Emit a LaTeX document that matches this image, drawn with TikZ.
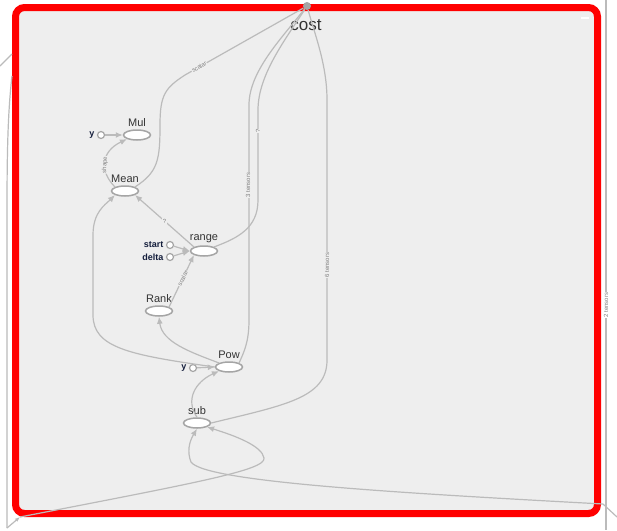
\documentclass[tikz,border=0pt]{standalone}
\usepackage{fontspec}
\setmainfont{Liberation Sans}
\usetikzlibrary{shapes.geometric, arrows.meta}

\definecolor{edgegray}{RGB}{187,187,187}
\definecolor{nodegray}{RGB}{165,165,165}
\definecolor{textgray}{RGB}{51,51,51}
\definecolor{boxfill}{RGB}{238,238,238}
\definecolor{constink}{RGB}{20,30,60}

\begin{document}
\begin{tikzpicture}[x=1pt, y=-1pt]

\tikzset{opnode/.style = {shape=ellipse, draw=nodegray, line width=1.5pt, fill=white, minimum width=27pt, minimum height=10pt, inner sep=0pt}}
\tikzset{constnode/.style = {shape=circle, draw=nodegray, line width=1.2pt, fill=white, minimum size=7pt, inner sep=0pt}}
\tikzset{oplabel/.style = {label={[text=textgray, font=\fontsize{11}{12}\selectfont, label distance=-1pt]above:#1}}}
\tikzset{constlabel/.style = {label={[text=constink, font=\fontsize{9}{10}\selectfont\bfseries, label distance=-1pt]left:#1}}}
\tikzset{edge/.style = {draw=edgegray, line width=1.2pt, -{Latex[length=7pt, width=6pt]}}}
\tikzset{wire/.style = {draw=edgegray, line width=1.2pt}}
\tikzset{edgelabel/.style = {text=gray, font=\fontsize{6}{6}\selectfont, inner sep=0.5pt, fill=boxfill}}

\useasboundingbox (0,0) rectangle (617,530);
\fill[white] (0,0) rectangle (617,530);

%outer box
\draw[red, line width=7pt, rounded corners=9pt, fill=boxfill] (15.5,7.5) rectangle (597.5,513.5);
\draw[white, line width=1.2pt] (581,18) -- (589,18);

%outer edges
\draw[wire] (606,0) -- (606,530);
\node[edgelabel, rotate=90, fill=white] at (606,305) {2 tensors};
\coordinate (inright) at (603,504);
\draw[wire] (617,517) -- (inright);
\coordinate (inleft) at (20,517);
\draw[wire] (12,76) .. controls (8,110) and (7,150) .. (7,210) -- (7,528);
\draw[wire, -{Latex[length=5pt, width=4pt]}] (7,528) -- (inleft);
\draw[wire] (0,66) -- (12,54);

%cost
\node[circle, fill=nodegray, inner sep=0pt, minimum size=8pt] (cost) at (307,6) {};
\node[text=textgray, font=\fontsize{17}{18}\selectfont] (costtext) at (306,25) {cost};

%verticies
\node[opnode, oplabel=Mul] (Mul) at (137,135) {};
\node[opnode, oplabel=Mean] (Mean) at (125,191) {};
\node[opnode, oplabel=range] (range) at (204,251) {};
\node[opnode, oplabel=Rank] (Rank) at (159,311) {};
\node[opnode, oplabel=Pow] (Pow) at (229,367) {};
\node[opnode, oplabel=sub] (sub) at (197,423) {};
\node[constnode, constlabel=y] (y1) at (101,135) {};
\node[constnode, constlabel=start] (start) at (170,245) {};
\node[constnode, constlabel=delta] (delta) at (170,257) {};
\node[constnode, constlabel=y] (y2) at (193,368) {};

%edges
\draw[edge] (y1) -- (Mul);
\draw[edge] (Mean.north west) .. controls (100,172) and (100,152) .. (Mul.south west)
  node[pos=0.45, edgelabel, sloped] {shape};
\draw[wire] (Mean.north east) .. controls (158,172) and (160,160) .. (160,125)
  .. controls (160,95) and (165,88) .. (185,75) -- (cost)
  node[pos=0.12, edgelabel, sloped] {scalar};
\draw[edge] (range.north west) -- (Mean.south east) node[midway, edgelabel] {?};
\draw[edge] (start) -- (range.west);
\draw[edge] (delta) -- (range.west);
\draw[edge] (Rank.north east) -- (range.south west) node[pos=0.55, edgelabel, sloped] {scalar};
\draw[wire] (range.north east) .. controls (238,238) and (258,228) .. (258,200) -- (258,110)
  .. controls (258,75) and (285,40) .. (cost);
\node[edgelabel, rotate=90] at (258,131) {?};
\draw[wire] (Pow.north east) .. controls (244,352) and (249,342) .. (249,320) -- (249,105)
  .. controls (249,72) and (280,40) .. (cost);
\node[edgelabel, rotate=90] at (248,185) {3 tensors};
\draw[wire] (sub.east) .. controls (285,405) and (327,398) .. (327,360) -- (327,100)
  .. controls (327,65) and (315,35) .. (cost);
\node[edgelabel, rotate=90] at (327,265) {6 tensors};
\draw[edge] (Pow.north west) .. controls (190,352) and (162,342) .. (Rank.south);
\draw[edge] (Pow.west) .. controls (130,355) and (93,348) .. (93,315) -- (93,235)
  .. controls (93,212) and (105,205) .. (Mean.south west);
\draw[edge] (y2) -- (Pow.west);
\draw[edge] (sub.north) .. controls (185,400) and (195,382) .. (Pow.south west);
\draw[edge] (inleft) .. controls (200,482) and (266,470) .. (264,458)
  .. controls (262,446) and (236,436) .. (sub.south east);
\draw[edge] (inright) .. controls (400,493) and (205,482) .. (191,462)
  .. controls (187,452) and (189,442) .. (sub.south);

\end{tikzpicture}
\end{document}
